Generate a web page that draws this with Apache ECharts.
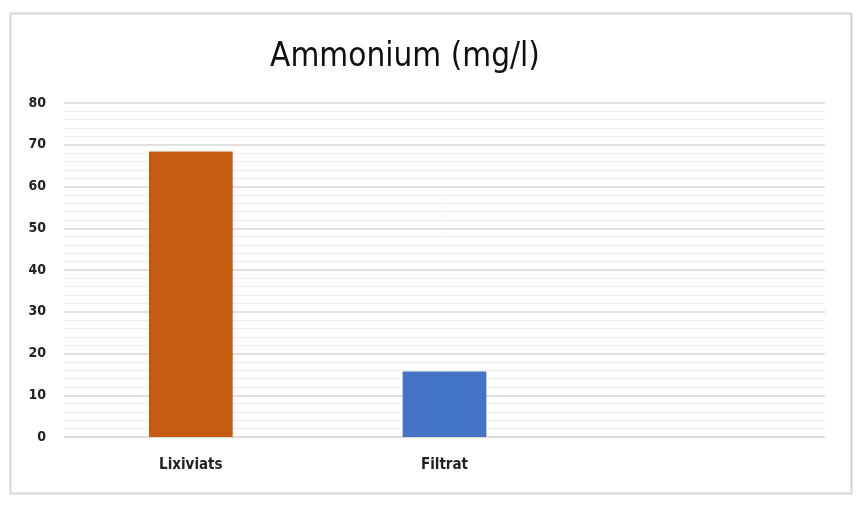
<!DOCTYPE html>
<html><head><meta charset="utf-8">
<script src="https://cdn.jsdelivr.net/npm/echarts@6/dist/echarts.min.js"></script>
<style>html,body{margin:0;padding:0;background:#fff}#c{width:868px;height:520px}</style>
</head><body><div id="c"></div>
<script>
const categories = ["Lixiviats", "Filtrat", ""];
const values = [68.4, 15.7, null];
const barColors = ["#C55A11", "#4472C4", "#A5A5A5"];
const yTicks = [0, 10, 20, 30, 40, 50, 60, 70, 80];

const chart = echarts.init(document.getElementById('c'));
chart.setOption({
  backgroundColor: '#fff',
  animation: false,
  title: {
    text: 'Ammonium (mg/l)', left: 400, top: 36, textAlign: 'center',
    textStyle: { fontFamily: 'DejaVu Sans Condensed, sans-serif', fontSize: 33, fontWeight: 'normal', color: '#111' }
  },
  graphic: [{
    type: 'rect', shape: { x: 10.5, y: 13.5, width: 841, height: 480 },
    style: { fill: 'none', stroke: '#d4d4d4', lineWidth: 2 }, silent: true
  }],
  grid: { left: 64, right: 43, top: 103, bottom: 83, containLabel: false },
  xAxis: {
    type: 'category', data: categories,
    axisLine: { show: true, lineStyle: { color: '#d9d9d9', width: 1 } },
    axisTick: { show: false },
    axisLabel: { margin: 21, fontFamily: 'DejaVu Sans Condensed, sans-serif', fontWeight: 'bold', fontSize: 15, color: '#222' }
  },
  yAxis: {
    type: 'value', min: yTicks[0], max: yTicks[yTicks.length - 1], interval: 10,
    axisLine: { show: false }, axisTick: { show: false },
    axisLabel: { margin: 18, fontFamily: 'DejaVu Sans Condensed, sans-serif', fontWeight: 'bold', fontSize: 14, color: '#222' },
    splitLine: { lineStyle: { color: '#d6d6d6', width: 1.5 } },
    minorTick: { show: false, splitNumber: 5 },
    minorSplitLine: { show: true, lineStyle: { color: '#ececec', width: 1 } }
  },
  series: [{
    type: 'bar', barWidth: '33%',
    data: values.map((v, i) => ({ value: v, itemStyle: { color: barColors[i] } }))
  }]
});
</script></body></html>
